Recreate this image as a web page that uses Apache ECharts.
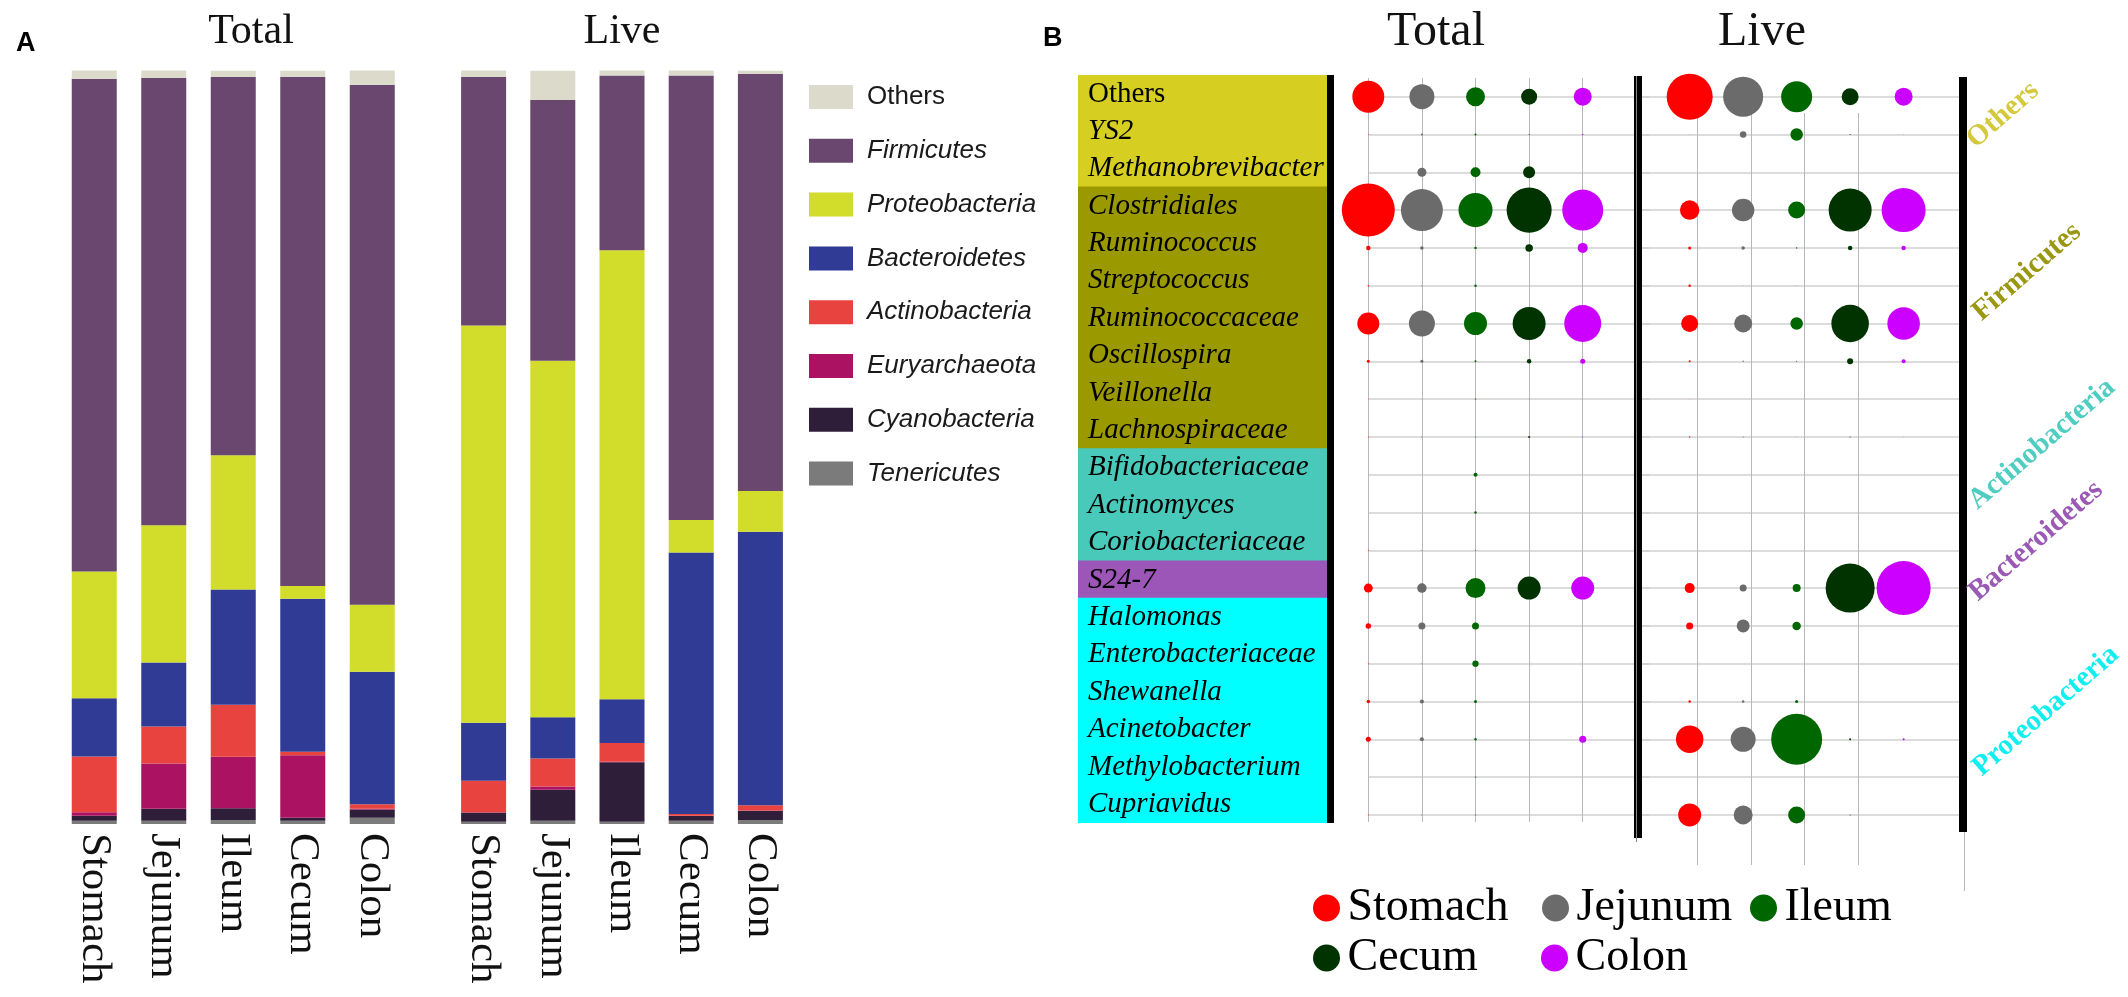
<!DOCTYPE html>
<html><head><meta charset="utf-8">
<script src="https://cdn.jsdelivr.net/npm/echarts@6/dist/echarts.min.js"></script>
<style>html,body{margin:0;padding:0;background:#fff}#c{width:2128px;height:997px}</style>
</head><body><div id="c"></div>
<script>
// ---------- Panel A data (relative abundance %) ----------
const tissues = ['Stomach', 'Jejunum', 'Ileum', 'Cecum', 'Colon'];
const phyla = ['Others', 'Firmicutes', 'Proteobacteria', 'Bacteroidetes', 'Actinobacteria', 'Euryarchaeota', 'Cyanobacteria', 'Tenericutes'];

const totalOthers         = [1.14, 0.97, 0.84, 0.80, 1.95];
const totalFirmicutes     = [65.4, 59.4, 50.2, 67.6, 69.0];
const totalProteobacteria = [16.8, 18.2, 17.8, 1.7, 8.9];
const totalBacteroidetes  = [7.75, 8.5, 15.3, 20.3, 17.6];
const totalActinobacteria = [7.4, 4.9, 6.9, 0.44, 0.57];
const totalEuryarchaeota  = [0.45, 6.0, 6.85, 8.3, 0.1];
const totalCyanobacteria  = [0.66, 1.6, 1.55, 0.4, 1.1];
const totalTenericutes    = [0.44, 0.44, 0.53, 0.44, 0.84];

const liveOthers         = [0.9, 3.9, 0.74, 0.66, 0.4];
const liveFirmicutes     = [33.0, 34.6, 23.2, 59.0, 55.4];
const liveProteobacteria = [52.7, 47.3, 59.6, 4.3, 5.4];
const liveBacteroidetes  = [7.7, 5.5, 5.8, 34.7, 36.3];
const liveActinobacteria = [4.2, 3.7, 2.5, 0.23, 0.7];
const liveEuryarchaeota  = [0.05, 0.44, 0.05, 0.05, 0.05];
const liveCyanobacteria  = [1.2, 4.1, 7.9, 0.62, 1.2];
const liveTenericutes    = [0.3, 0.44, 0.3, 0.44, 0.53];

// ---------- Panel B data ----------
const genera = ['Others', 'YS2', 'Methanobrevibacter', 'Clostridiales', 'Ruminococcus', 'Streptococcus',
  'Ruminococcaceae', 'Oscillospira', 'Veillonella', 'Lachnospiraceae', 'Bifidobacteriaceae', 'Actinomyces',
  'Coriobacteriaceae', 'S24-7', 'Halomonas', 'Enterobacteriaceae', 'Shewanella', 'Acinetobacter',
  'Methylobacterium', 'Cupriavidus'];
const generaGroup = ['Others', 'Others', 'Others', 'Firmicutes', 'Firmicutes', 'Firmicutes', 'Firmicutes',
  'Firmicutes', 'Firmicutes', 'Firmicutes', 'Actinobacteria', 'Actinobacteria', 'Actinobacteria',
  'Bacteroidetes', 'Proteobacteria', 'Proteobacteria', 'Proteobacteria', 'Proteobacteria', 'Proteobacteria', 'Proteobacteria'];
const groupLabels = ['Others', 'Firmicutes', 'Actinobacteria', 'Bacteroidetes', 'Proteobacteria'];

// bubble abundance values (area-proportional), one per genus row
const totalStomachB = [10.2, 0.006, 0, 28.1, 0.2, 0.02, 4.84, 0.09, 0.004, 0.01, 0, 0, 0.01, 0.81, 0.3, 0.01, 0.12, 0.25, 0, 0.01];
const totalJejunumB = [6.25, 0.04, 0.81, 17.6, 0.12, 0.01, 6.76, 0.09, 0.0025, 0.01, 0, 0, 0.01, 0.9, 0.49, 0.01, 0.16, 0.16, 0, 0.01];
const totalIleumB   = [3.61, 0.04, 1.0, 11.6, 0.06, 0.06, 5.29, 0.04, 0.02, 0.01, 0.16, 0.06, 0.01, 4.0, 0.49, 0.4, 0.09, 0.06, 0.02, 0.01];
const totalCecumB   = [2.56, 0.01, 1.44, 20.3, 0.56, 0, 10.9, 0.2, 0.0025, 0.04, 0, 0, 0, 5.29, 0, 0, 0, 0, 0, 0];
const totalColonB   = [3.24, 0.02, 0, 16.8, 1.0, 0, 13.7, 0.25, 0.0025, 0.01, 0, 0, 0, 5.29, 0, 0, 0, 0.49, 0, 0];

const liveStomachB = [21.2, 0.0025, 0, 3.8, 0.09, 0.06, 2.89, 0.04, 0.0025, 0.02, 0, 0, 0, 1.0, 0.49, 0, 0.06, 7.56, 0, 5.29];
const liveJejunumB = [16.0, 0.42, 0, 5.06, 0.12, 0.0025, 3.24, 0.02, 0, 0.01, 0, 0, 0, 0.49, 1.69, 0, 0.06, 6.25, 0, 3.61];
const liveIleumB   = [9.61, 1.56, 0, 2.89, 0.02, 0.0025, 1.56, 0.01, 0, 0.0025, 0, 0, 0, 0.64, 0.72, 0, 0.09, 26.0, 0, 2.89];
const liveCecumB   = [2.89, 0.01, 0, 18.5, 0.2, 0, 14.1, 0.36, 0, 0.01, 0, 0, 0, 24.0, 0, 0, 0, 0.04, 0, 0.01];
const liveColonB   = [3.24, 0.0025, 0, 19.4, 0.2, 0, 10.6, 0.16, 0, 0.0025, 0, 0, 0, 29.2, 0, 0, 0, 0.04, 0, 0];

// ---------- styles ----------
const phylumColors = {
  Others: '#dcdbcb', Firmicutes: '#69476e', Proteobacteria: '#d2dc2a', Bacteroidetes: '#2f3b95',
  Actinobacteria: '#e8433f', Euryarchaeota: '#ab1362', Cyanobacteria: '#2e1e3a', Tenericutes: '#7b7b7b'
};
const groupBg = { Others: '#d6cf22', Firmicutes: '#9b9900', Actinobacteria: '#48c9b9', Bacteroidetes: '#9b56b8', Proteobacteria: '#00ffff' };
const groupText = { Others: '#d4c93c', Firmicutes: '#9a9712', Actinobacteria: '#4ecdc0', Bacteroidetes: '#9b59b6', Proteobacteria: '#12eef0' };
const tissueColors = ['#ff0000', '#6b6b6b', '#006600', '#013301', '#cc00ff'];

const totalBars = { Others: totalOthers, Firmicutes: totalFirmicutes, Proteobacteria: totalProteobacteria, Bacteroidetes: totalBacteroidetes,
  Actinobacteria: totalActinobacteria, Euryarchaeota: totalEuryarchaeota, Cyanobacteria: totalCyanobacteria, Tenericutes: totalTenericutes };
const liveBars = { Others: liveOthers, Firmicutes: liveFirmicutes, Proteobacteria: liveProteobacteria, Bacteroidetes: liveBacteroidetes,
  Actinobacteria: liveActinobacteria, Euryarchaeota: liveEuryarchaeota, Cyanobacteria: liveCyanobacteria, Tenericutes: liveTenericutes };
const totalBubbles = [totalStomachB, totalJejunumB, totalIleumB, totalCecumB, totalColonB];
const liveBubbles = [liveStomachB, liveJejunumB, liveIleumB, liveCecumB, liveColonB];

const SERIF = '"Liberation Serif", "Times New Roman", serif';
const SANS = '"Liberation Sans", Arial, sans-serif';

function hidden(type, gi, extra) {
  return Object.assign({ type: type, gridIndex: gi, axisLine: { show: false }, axisTick: { show: false },
    axisLabel: { show: false }, splitLine: { show: false } }, extra || {});
}
const catAxisA = gi => ({
  type: 'category', gridIndex: gi, data: tissues, axisLine: { show: false }, axisTick: { show: false },
  axisLabel: { rotate: -90, margin: 9, fontFamily: SERIF, fontSize: 43, color: '#111' }
});
const hLines = { show: true, showMinLine: true, showMaxLine: true, lineStyle: { color: '#d0d0d0', width: 1.5 } };
const vLines = { show: true, showMinLine: true, showMaxLine: false, lineStyle: { color: '#b8b8b8', width: 1 } };

const grid = [
  { left: 59.5, top: 70.5, width: 347.5, height: 753.5 },   // A Total
  { left: 449, top: 70.5, width: 346, height: 753.5 },      // A Live
  { left: 1078, top: 75, width: 249, height: 748 },         // B labels
  { left: 1368.3, top: 78, width: 268, height: 744 },       // B Total vertical lines
  { left: 1368.3, top: 96.7, width: 281.7, height: 718.2 }, // B Total bubbles
  { left: 1697.4, top: 113, width: 214, height: 752 },      // B Live vertical lines
  { left: 1641, top: 96.7, width: 322, height: 718.2 }      // B Live bubbles
];
const xAxis = [
  catAxisA(0), catAxisA(1),
  hidden('value', 2, { min: 0, max: 1 }),
  hidden('value', 3, { min: 1, max: 6, interval: 1, splitLine: vLines }),
  hidden('value', 4, { min: 1, max: 6.255 }),
  hidden('value', 5, { min: 1, max: 5, interval: 1, splitLine: vLines }),
  hidden('value', 6, { min: 0.09, max: 6.11 })
];
const yAxis = [
  hidden('value', 0, { min: 0, max: 100 }),
  hidden('value', 1, { min: 0, max: 100 }),
  hidden('category', 2, { data: genera, inverse: true }),
  hidden('value', 3, { min: 0, max: 1 }),
  hidden('value', 4, { min: 1, max: 20, interval: 1, inverse: true, splitLine: hLines }),
  hidden('value', 5, { min: 0, max: 1 }),
  hidden('value', 6, { min: 1, max: 20, interval: 1, inverse: true, splitLine: hLines })
];

const series = [];
phyla.slice().reverse().forEach(p => {
  series.push({ type: 'bar', name: p, stack: 'total', xAxisIndex: 0, yAxisIndex: 0, barWidth: 45,
    data: totalBars[p], itemStyle: { color: phylumColors[p] }, silent: true });
  series.push({ type: 'bar', name: p, stack: 'live', xAxisIndex: 1, yAxisIndex: 1, barWidth: 45,
    data: liveBars[p], itemStyle: { color: phylumColors[p] }, silent: true });
});
series.push({
  type: 'bar', name: 'genus', xAxisIndex: 2, yAxisIndex: 2, barWidth: 39, silent: true,
  data: genera.map((g, i) => ({ value: 1, itemStyle: { color: groupBg[generaGroup[i]] },
    label: { fontStyle: g === 'Others' ? 'normal' : 'italic' } })),
  label: { show: true, position: 'insideLeft', distance: 10, formatter: '{b}', fontFamily: SERIF, fontSize: 29, color: '#000' }
});
tissues.forEach((t, ti) => {
  const mk = (arr) => arr.map((v, ri) => [ti + 1, ri + 1, v]).filter(d => d[2] > 0);
  series.push({ type: 'scatter', name: t, xAxisIndex: 4, yAxisIndex: 4, data: mk(totalBubbles[ti]),
    symbolSize: d => 10 * Math.sqrt(d[2]), itemStyle: { color: tissueColors[ti], opacity: 1 }, z: 5, silent: true });
  series.push({ type: 'scatter', name: t, xAxisIndex: 6, yAxisIndex: 6, data: mk(liveBubbles[ti]),
    symbolSize: d => 10 * Math.sqrt(d[2]), itemStyle: { color: tissueColors[ti], opacity: 1 }, z: 5, silent: true });
});

const legendPos = [[1313, 885], [1542, 885], [1750, 885], [1313, 935], [1541, 935]];
const legend = [{
  orient: 'vertical', left: 809, top: 84, padding: 0, itemWidth: 44, itemHeight: 24, itemGap: 27.8,
  icon: 'rect', selectedMode: false,
  textStyle: { fontFamily: SANS, fontSize: 26, color: '#1a1a1a', lineHeight: 24, padding: [0, 0, 0, 9] },
  data: phyla.map(p => ({ name: p, textStyle: { fontStyle: p === 'Others' ? 'normal' : 'italic' } }))
}];
tissues.forEach((t, i) => legend.push({
  left: legendPos[i][0], top: legendPos[i][1], padding: 0, itemWidth: 28, itemHeight: 27, icon: 'circle',
  selectedMode: false, textStyle: { fontFamily: SERIF, fontSize: 46, color: '#000', lineHeight: 46, padding: [0, 0, 0, 2] },
  data: [t]
}));

function txt(text, x, y, font, fill, align, valign, rot) {
  return { type: 'text', x: x, y: y, rotation: rot || 0, z: 20,
    style: { text: text, font: font, fill: fill, align: align, textAlign: align, verticalAlign: valign, textVerticalAlign: valign } };
}
const groupPos = { Others: [2003, 115], Firmicutes: [2027, 272], Actinobacteria: [2042, 444], Bacteroidetes: [2036, 541], Proteobacteria: [2046, 711] };
const graphic = [
  txt('A', 16, 30, 'bold 27px ' + SANS, '#000', 'left', 'top'),
  txt('B', 1043, 25, 'bold 27px ' + SANS, '#000', 'left', 'top'),
  txt('Total', 251, 32, '42px ' + SERIF, '#111', 'center', 'middle'),
  txt('Live', 622, 32, '42px ' + SERIF, '#111', 'center', 'middle'),
  txt('Total', 1436, 32, '48px ' + SERIF, '#111', 'center', 'middle'),
  txt('Live', 1762, 32, '48px ' + SERIF, '#111', 'center', 'middle'),
  { type: 'rect', z: 20, shape: { x: 1327, y: 75, width: 7, height: 748 }, style: { fill: '#000' } },
  { type: 'rect', z: 20, shape: { x: 1634, y: 76, width: 8, height: 762 }, style: { fill: '#000' } },
  { type: 'line', z: 21, shape: { x1: 1636.5, y1: 76, x2: 1636.5, y2: 842 }, style: { stroke: '#888', lineWidth: 1 } },
  { type: 'rect', z: 20, shape: { x: 1959, y: 77, width: 8, height: 755 }, style: { fill: '#000' } },
  { type: 'line', z: 19, shape: { x1: 1964.5, y1: 820, x2: 1964.5, y2: 891 }, style: { stroke: '#bbb', lineWidth: 1 } }
];
groupLabels.forEach(g => graphic.push(txt(g, groupPos[g][0], groupPos[g][1], 'bold 29px ' + SERIF, groupText[g], 'center', 'middle', 41 * Math.PI / 180)));

const chart = echarts.init(document.getElementById('c'), null, { renderer: 'canvas' });
chart.setOption({
  animation: false, backgroundColor: '#fff',
  grid: grid, xAxis: xAxis, yAxis: yAxis, series: series, legend: legend, graphic: graphic
});
</script>
</body></html>
